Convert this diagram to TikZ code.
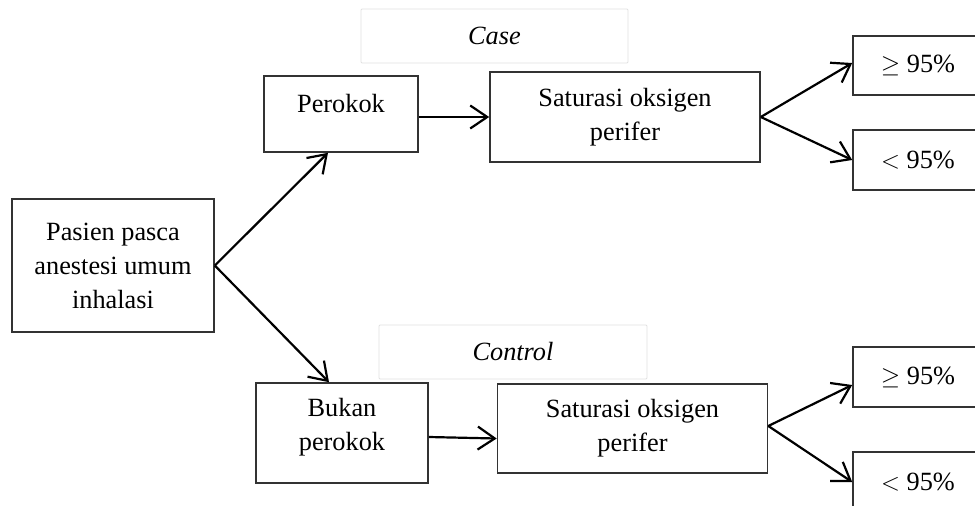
\documentclass[tikz,border=0pt]{standalone}
\usepackage{fontspec}
\setmainfont{Liberation Serif}
\usetikzlibrary{arrows.meta}
\begin{document}
\begin{tikzpicture}[x=1pt,y=-1pt,
    font=\fontsize{26.3}{34}\selectfont,
    ->, >={Straight Barb[length=17pt,width=23pt]}, line width=2.2pt,
    box/.style={draw=black!80, line width=1.6pt, inner sep=0pt, align=center},
    tag/.style={draw=black!12, line width=0.8pt, rounded corners=1pt, font=\fontsize{26.3}{34}\selectfont\itshape, minimum width=267pt, minimum height=54pt}]
    \useasboundingbox (0,0) rectangle (975,506);

    \node (pasien) [box, minimum width=202pt, minimum height=133pt] at (113,265.5) {Pasien pasca\\anestesi umum\\inhalasi};
    \node (perokok) [box, minimum width=154pt, minimum height=76pt, text height=19pt, text depth=23pt] at (341,114) {Perokok};
    \node (bukan) [box, minimum width=172pt, minimum height=100pt, text height=44pt, text depth=10pt] at (342,433) {Bukan\\perokok};

    \node (case) [tag] at (494.5,36) {Case};
    \node (control) [tag, minimum width=268pt] at (513,352) {Control};

    \node (sat1) [box, minimum width=270pt, minimum height=90pt] at (625,117) {Saturasi oksigen\\perifer};
    \node (sat2) [box, minimum width=270pt, minimum height=89pt] at (632.5,428.5) {Saturasi oksigen\\perifer};

    \node (ge1) [box, minimum width=130pt, minimum height=59pt] at (918,65.5) {$\geq$ 95\%};
    \node (lt1) [box, minimum width=130pt, minimum height=60pt] at (918,160) {$<$ 95\%};
    \node (ge2) [box, minimum width=130pt, minimum height=60pt] at (918,377) {$\geq$ 95\%};
    \node (lt2) [box, minimum width=130pt, minimum height=60pt] at (918,482) {$<$ 95\%};

    \path
    (pasien.east) edge ([xshift=-13pt]perokok.south)
    (pasien.east) edge ([xshift=-13pt]bukan.north)
    ([yshift=-3pt]perokok.east) edge (sat1.west)
    ([yshift=-4pt]bukan.east) edge ([yshift=-10pt]sat2.west)
    (sat1.east) edge ([yshift=2.5pt]ge1.west)
    (sat1.east) edge (lt1.west)
    ([yshift=2.5pt]sat2.east) edge ([yshift=-8pt]ge2.west)
    ([yshift=2.5pt]sat2.east) edge (lt2.west);
\end{tikzpicture}
\end{document}
